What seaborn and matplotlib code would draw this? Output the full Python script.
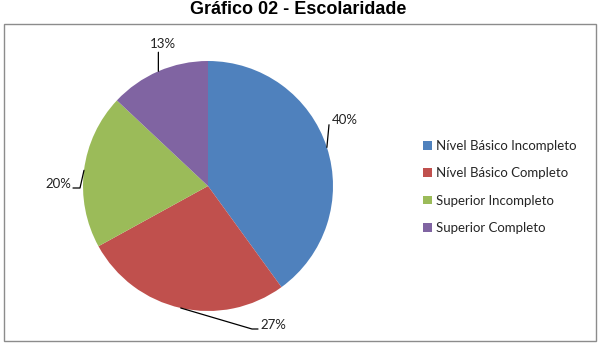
import matplotlib
matplotlib.use("Agg")
import matplotlib.pyplot as plt
import seaborn as sns
import numpy as np
from matplotlib.patches import Patch, Rectangle

categories = ["Nível Básico Incompleto", "Nível Básico Completo",
              "Superior Incompleto", "Superior Completo"]
values = [40, 27, 20, 13]
labels = ["40%", "27%", "20%", "13%"]
colors = ["#4F81BD", "#C0504D", "#9BBB59", "#8064A2"]
title = "Gráfico 02 - Escolaridade"

sns.set_theme(style="white")
plt.rcParams["font.family"] = ["Lato", "DejaVu Sans"]

W, H = 602, 355
fig = plt.figure(figsize=(W / 100, H / 100), dpi=100)

# chart border
fig.add_artist(Rectangle((4 / W, 1 - 341 / H), 592 / W, 317 / H,
                         transform=fig.transFigure, fill=False,
                         edgecolor="#8c8c8c", linewidth=1.0))

fig.text(298 / W, 1 - 14 / H, title, ha="center", va="baseline",
         fontsize=13, fontweight="bold", family=["Liberation Sans"],
         color="#000000")

cx, cy, r = 208, 186, 125
ax = fig.add_axes([(cx - r) / W, (H - cy - r) / H, 2 * r / W, 2 * r / H])
wedges, _ = ax.pie(values, colors=colors, startangle=90, counterclock=False,
                   radius=1, wedgeprops=dict(linewidth=0))
ax.set_xlim(-1, 1)
ax.set_ylim(-1, 1)
ax.set_aspect("equal")
ax.axis("off")

# label layout: (elbow points after anchor, text position, ha)
layout = {
    "40%": ([(0.968, 0.49)], (0.99, 0.53), "left"),
    "27%": ([(0.352, -1.144), (0.40, -1.144)], (0.42, -1.11), "left"),
    "20%": ([(-1.024, -0.016), (-1.08, -0.016)], (-1.09, 0.02), "right"),
    "13%": ([(-0.397, 1.07)], (-0.36, 1.14), "center"),
}
for w, lab in zip(wedges, labels):
    mid = np.deg2rad((w.theta1 + w.theta2) / 2)
    ax_, ay_ = np.cos(mid), np.sin(mid)
    pts, tpos, ha = layout[lab]
    xs = [ax_] + [p[0] for p in pts]
    ys = [ay_] + [p[1] for p in pts]
    ax.plot(xs, ys, color="#000000", linewidth=0.9, clip_on=False)
    ax.text(tpos[0], tpos[1], lab, ha=ha, va="center", fontsize=9.5,
            color="#222222", clip_on=False)

handles = [Patch(facecolor=c, edgecolor="none") for c in colors]
fig.legend(handles, categories, loc="center left",
           bbox_to_anchor=(418 / W, 1 - 187 / H), frameon=False,
           fontsize=9.5, handlelength=0.65, handleheight=0.65,
           handletextpad=0.35, labelspacing=1.15, borderaxespad=0)

fig.savefig("out.png", dpi=100)
